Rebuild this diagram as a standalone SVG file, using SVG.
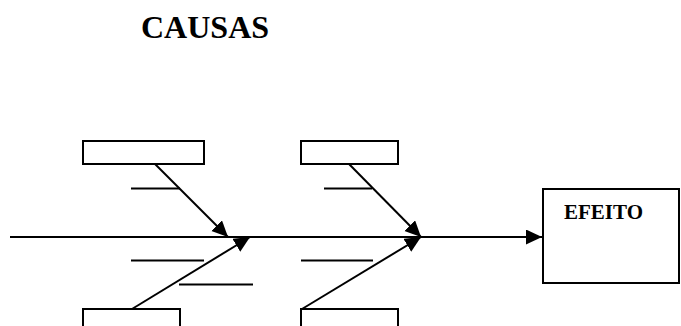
<svg xmlns="http://www.w3.org/2000/svg" width="681" height="326" viewBox="0 0 681 326">
  <style>
    .box { fill: #ffffff; stroke: #000000; stroke-width: 2; }
    .line { fill: none; stroke: #000000; stroke-width: 2; }
    .arrow { fill: none; stroke: #000000; stroke-width: 2; marker-end: url(#head); }
    .title { font-family: "Liberation Serif", "Times New Roman", serif; font-weight: bold; fill: #000000; }
  </style>
  <defs>
    <marker id="head" markerUnits="userSpaceOnUse" markerWidth="18" markerHeight="16" refX="16" refY="7.5" orient="auto">
      <path d="M0,0 L16,7.5 L0,15 Z" fill="#000000"/>
    </marker>
  </defs>

  <rect width="681" height="326" fill="#ffffff"/>

  <text class="title" x="141" y="38" font-size="32">CAUSAS</text>

  <!-- cause boxes -->
  <g id="cause-top-1"><rect class="box" x="83" y="141" width="121" height="23"/></g>
  <g id="cause-top-2"><rect class="box" x="301" y="141" width="97" height="23"/></g>
  <g id="cause-bottom-1"><rect class="box" x="83" y="309" width="97" height="30"/></g>
  <g id="cause-bottom-2"><rect class="box" x="301" y="309" width="97" height="30"/></g>

  <!-- effect box -->
  <g id="effect">
    <rect class="box" x="543" y="189" width="136" height="94"/>
    <text class="title" x="564" y="219" font-size="21">EFEITO</text>
  </g>

  <!-- connectors -->
  <g id="connectors">
    <line class="arrow" x1="10" y1="237" x2="542" y2="237"/>
    <line class="arrow" x1="155" y1="164" x2="228" y2="237"/>
    <line class="arrow" x1="349" y1="164" x2="421" y2="237"/>
    <line class="arrow" x1="132" y1="309" x2="250" y2="237"/>
    <line class="arrow" x1="302" y1="309" x2="421" y2="237"/>

    <!-- sub-cause ticks -->
    <line class="line" x1="131" y1="188.5" x2="180" y2="188.5"/>
    <line class="line" x1="324" y1="188.5" x2="372" y2="188.5"/>
    <line class="line" x1="131" y1="260.5" x2="204" y2="260.5"/>
    <line class="line" x1="301" y1="260.5" x2="373" y2="260.5"/>
    <line class="line" x1="179" y1="284.5" x2="253" y2="284.5"/>
  </g>
</svg>
